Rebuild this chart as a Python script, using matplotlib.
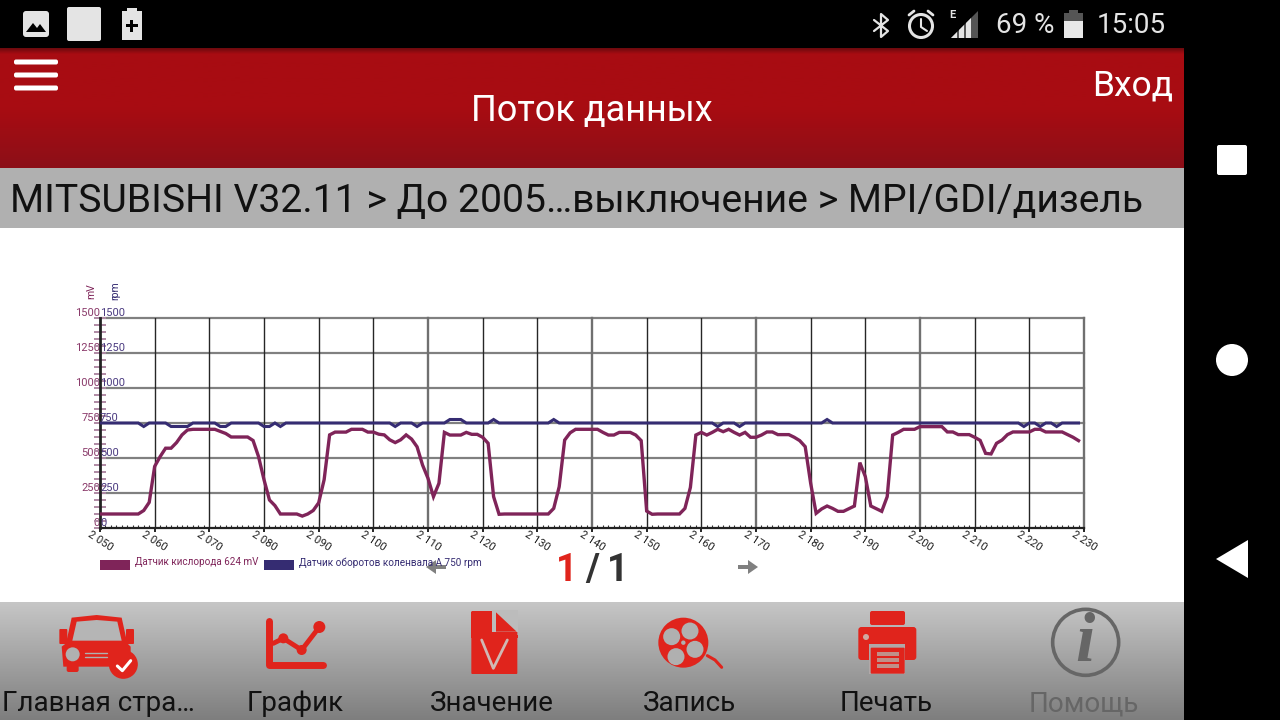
import numpy as np
import matplotlib
matplotlib.use("Agg")
import matplotlib.pyplot as plt
from matplotlib.patches import Rectangle, FancyBboxPatch, Circle, Polygon

plt.rcParams['font.family'] = ['Roboto', 'DejaVu Sans']

# ---- data ----
time_x = list(range(2050, 2230))
oxygen_mv = [
    100, 100, 100, 100, 100, 100, 100, 100, 125, 183,
    440, 510, 570, 570, 610, 665, 700, 705, 705, 705,
    705, 705, 690, 675, 650, 650, 650, 650, 625, 510,
    345, 200, 160, 100, 100, 100, 100, 85, 100, 125,
    180, 345, 665, 685, 685, 685, 705, 705, 705, 685,
    685, 670, 665, 630, 610, 630, 665, 635, 580, 450,
    355, 224, 319, 683, 664, 664, 664, 683, 669, 669,
    648, 605, 224, 98, 100, 100, 100, 100, 100, 100,
    100, 100, 100, 140, 295, 628, 680, 705, 705, 705,
    705, 705, 683, 664, 664, 683, 683, 683, 664, 624,
    121, 98, 100, 100, 100, 100, 100, 140, 290, 664,
    683, 664, 683, 705, 688, 705, 683, 664, 683, 648,
    648, 664, 686, 686, 667, 667, 667, 648, 624, 581,
    319, 105, 136, 157, 140, 119, 119, 138, 157, 467,
    367, 157, 138, 119, 224, 664, 683, 705, 705, 705,
    724, 724, 724, 724, 724, 686, 686, 667, 667, 667,
    648, 626, 533, 529, 605, 628, 667, 686, 686, 686,
    686, 705, 705, 686, 686, 686, 686, 667, 648, 624,
]
crank_rpm = [
    750, 750, 750, 750, 750, 750, 750, 750, 725, 750,
    750, 750, 750, 725, 725, 725, 725, 750, 750, 750,
    750, 750, 725, 725, 750, 750, 750, 750, 750, 750,
    725, 725, 750, 725, 750, 750, 750, 750, 750, 750,
    750, 750, 750, 750, 750, 750, 750, 750, 750, 750,
    750, 750, 750, 750, 725, 750, 750, 750, 725, 750,
    750, 750, 750, 750, 775, 775, 775, 750, 750, 750,
    750, 750, 775, 750, 750, 750, 750, 750, 750, 750,
    750, 750, 750, 775, 750, 750, 750, 750, 750, 750,
    750, 750, 750, 750, 750, 750, 750, 750, 750, 750,
    750, 750, 750, 750, 750, 750, 750, 750, 750, 750,
    750, 750, 750, 725, 750, 750, 750, 725, 750, 750,
    750, 750, 750, 750, 750, 750, 750, 750, 750, 750,
    750, 750, 750, 775, 750, 750, 750, 750, 750, 750,
    750, 750, 750, 750, 750, 750, 750, 750, 750, 750,
    750, 750, 750, 750, 750, 750, 750, 750, 750, 750,
    750, 750, 750, 750, 750, 750, 750, 750, 750, 725,
    750, 750, 725, 750, 750, 725, 750, 750, 750, 750,
]
x_ticks = list(range(2050, 2231, 10))
x_labels = [f"{v // 1000} {v % 1000:03d}" for v in x_ticks]
y_ticks = [0, 250, 500, 750, 1000, 1250, 1500]
y_labels = [str(v) for v in y_ticks]
gray_verticals = [2110, 2140, 2170, 2200, 2230]
legend_oxygen = "Датчик кислорода 624 mV"
legend_crank = "Датчик оборотов коленвала А 750 rpm"
breadcrumb = "MITSUBISHI V32.11 > До 2005…выключение > MPI/GDI/дизель"
toolbar = [("Главная стра…", 98, '#111111'), ("График", 295, '#111111'), ("Значение", 492, '#111111'),
           ("Запись", 689, '#111111'), ("Печать", 886, '#111111'), ("Помощь", 1084, '#666666')]

PURPLE = '#7f2459'
BLUE = '#352c72'
RED = '#e0241c'

W, H = 1280, 720
fig = plt.figure(figsize=(W / 100, H / 100), dpi=100, facecolor='white')

# ---- pixel-space overlay for the app chrome ----
ui = fig.add_axes([0, 0, 1, 1], zorder=0)
ui.set_xlim(0, W)
ui.set_ylim(H, 0)
ui.axis('off')


def grad(x0, x1, y0, y1, c0, c1, mid=None):
    cols = [c0, c1] if mid is None else [c0, mid, c1]
    rgb = np.array([matplotlib.colors.to_rgb(c) for c in cols])
    t = np.linspace(0, 1, 128)
    pos = np.linspace(0, 1, len(cols))
    img = np.stack([np.interp(t, pos, rgb[:, i]) for i in range(3)], axis=1)[:, None, :]
    ui.imshow(img, extent=(x0, x1, y1, y0), aspect='auto', interpolation='bilinear', zorder=1)


def rect(x, y, w, h, c, z=3):
    ui.add_patch(Rectangle((x, y), w, h, fc=c, ec='none', zorder=z))


def rrect(x, y, w, h, c, r=2, z=3):
    ui.add_patch(FancyBboxPatch((x + r, y + r), w - 2 * r, h - 2 * r, boxstyle=f"round,pad={r}",
                                fc=c, ec='none', zorder=z))


def circ(x, y, r, c, z=3, ec='none', lw=0):
    ui.add_patch(Circle((x, y), r, fc=c, ec=ec, lw=lw, zorder=z))


def poly(pts, c, z=3):
    ui.add_patch(Polygon(pts, closed=True, fc=c, ec='none', zorder=z))


def line(xs, ys, c, lw, z=3):
    ui.plot(xs, ys, color=c, lw=lw, solid_capstyle='round', solid_joinstyle='round', zorder=z)


def txt(x, y, s, size, c, ha='left', va='center', **kw):
    ui.text(x, y + 1.8, s, fontsize=size, color=c, ha=ha, va=va, zorder=5, **kw)


# backgrounds
rect(0, 0, W, H, 'white', 0)
rect(0, 0, W, 48, 'black', 2)
rect(1184, 0, 96, H, 'black', 2)
grad(0, 1184, 48, 168, '#a80c12', '#8c0f18', mid='#a80c12')
grad(0, 1184, 48, 54, '#6a0a0e', '#a80c12')
rect(0, 168, 1184, 60, '#b0b0b0', 2)
grad(0, 1184, 602, 720, '#c6c6c6', '#7e7e7e')
ui.set_xlim(0, W)
ui.set_ylim(H, 0)

# status bar left icons
rrect(23, 11, 26, 26, '#e4e4e4', 3)
poly([(26, 32), (33, 23), (37, 28), (40, 24), (46, 32)], 'black', 4)
rrect(67, 7, 34, 34, '#e4e4e4', 2)
rect(122, 11, 20, 29, '#e4e4e4')
rect(127, 8, 10, 4, '#e4e4e4')
rect(125.5, 24, 12, 3, 'black', 4)
rect(130, 19.5, 3, 12, 'black', 4)

# status bar right icons
line([874, 888, 881, 881, 888, 874], [20, 31, 37, 14, 20, 31], '#e4e4e4', 1.6)
circ(921, 26, 11.5, 'none', ec='#e4e4e4', lw=2.2)
line([921, 921, 927], [19, 27, 31], '#e4e4e4', 1.5)
line([909, 914], [15, 11], '#e4e4e4', 2)
line([933, 928], [15, 11], '#e4e4e4', 2)
txt(949, 13, "E", 8, '#e4e4e4', fontweight='bold')
poly([(951, 38), (978, 11), (978, 38)], '#555555')
poly([(951, 38), (957, 32), (957, 38)], '#e4e4e4', 4)
poly([(959, 38), (959, 30), (964, 25), (964, 38)], '#e4e4e4', 4)
poly([(966, 38), (966, 23), (971, 18), (971, 38)], '#e4e4e4', 4)
txt(996, 24, "69 %", 20, '#e4e4e4')
rect(1064, 13, 19, 8, '#555555')
rect(1069, 10, 9, 3, '#555555')
rect(1064, 21, 19, 17, '#e8e8e8')
txt(1097, 24, "15:05", 20, '#e4e4e4')

# hamburger
for yy in (62, 75, 88):
    rrect(14, yy - 2.5, 44, 5, 'white', 2)

txt(592, 109, "Поток данных", 26, 'white', ha='center')
txt(1173, 84, "Вход", 25.5, 'white', ha='right')
txt(10, 199.5, breadcrumb, 28.15, '#111111')

# navigation bar
rrect(1217, 145, 30, 30, 'white', 2)
circ(1232, 360, 16, 'white')
poly([(1248, 540), (1248, 578), (1216, 559)], 'white')

# legend, pager
rect(100, 560, 30, 10, PURPLE)
txt(135, 560.5, legend_oxygen, 7.15, PURPLE)
rect(264, 560, 30, 10, BLUE)
txt(299, 560.5, legend_crank, 7.2, BLUE)
txt(556, 569, "1", 27, RED, fontweight='bold')
txt(585, 569, "/", 27, '#333333', fontweight='bold')
txt(607, 569, "1", 27, '#333333', fontweight='bold')
for x0, d in ((446, -1), (738, 1)):
    rect(min(x0, x0 + d * 12), 565, 12, 4, '#808080', 4)
    poly([(x0 + d * 10, 560), (x0 + d * 20, 567), (x0 + d * 10, 574)], '#808080', 4)

# toolbar labels
for label, cx, col in toolbar:
    txt(cx, 702, label, 20, col, ha='center')


def Z(ox, oy, pts):
    return [(ox + a / 3, oy + b / 3) for a, b in pts]


# car icon
ox, oy = 40, 605
poly(Z(ox, oy, [(95, 38), (170, 30), (245, 38), (262, 115), (272, 125), (272, 185), (70, 185), (65, 125), (78, 115)]), RED)
poly(Z(ox, oy, [(110, 50), (170, 45), (232, 50), (245, 107), (97, 107)]), '#b5b5b5', 4)
rrect(ox + 58 / 3, oy + 72 / 3, 8, 36 / 3 + 3, RED, 1)
rrect(ox + 258 / 3, oy + 72 / 3, 8, 36 / 3 + 3, RED, 1)
rrect(ox + 80 / 3, oy + 180 / 3, 12, 7, RED, 2)
circ(ox + 98 / 3, oy + 148 / 3, 7, '#b0b0b0', 4)
for yy in (143, 157):
    line([ox + 136 / 3, ox + 202 / 3], [oy + yy / 3] * 2, '#b0b0b0', 1, 4)
circ(ox + 250 / 3, oy + 178 / 3, 14.5, RED, 5)
line(*zip(*Z(ox, oy, [(232, 183), (247, 197), (272, 167)])), 'white', 2.2, 6)

# graph icon
line([ox + 688 / 3, ox + 688 / 3, ox + 850 / 3], [oy + 48 / 3, oy + 180 / 3, oy + 180 / 3], RED, 5)
line(*zip(*Z(ox, oy, [(700, 115), (730, 100), (785, 135), (838, 66)])), RED, 3.5)
for a, b, r in ((730, 100, 5), (785, 135, 5), (838, 66, 6)):
    circ(ox + a / 3, oy + b / 3, r, RED)

# value (file) icon
ox, oy = 450, 605
rrect(ox + 64 / 3, oy + 18 / 3, 46, 63, RED, 1)
poly(Z(ox, oy, [(127, 15), (127, 80), (205, 80), (205, 15)]), '#bcbcbc', 4)
poly(Z(ox, oy, [(64, 20), (125, 20), (125, 90), (205, 90), (205, 100), (64, 100)]), RED, 5)
poly(Z(ox, oy, [(138, 22), (200, 80), (138, 80)]), RED, 5)
line(*zip(*Z(ox, oy, [(95, 105), (130, 190), (172, 105)])), '#d0b8b4', 2, 6)

# reel icon
cx, cy = ox + 700 / 3, oy + 113 / 3
circ(cx, cy, 25, RED)
for a, b in ((665, 95), (720, 78), (735, 133), (678, 155)):
    circ(ox + a / 3, oy + b / 3, 8.5, '#b0b0b0', 4)
circ(cx, cy, 2.2, '#b0b0b0', 4)
line(*zip(*Z(ox, oy, [(772, 152), (795, 165), (815, 187)])), RED, 2.2)

# printer icon
ox, oy = 840, 605
rrect(ox + 90 / 3, oy + 18 / 3, 35, 14, RED, 2)
rrect(ox + 55 / 3, oy + 66 / 3, 58, 33, RED, 3)
circ(ox + 78 / 3, oy + 96 / 3, 3, '#d0a8a0', 4)
rect(ox + 88 / 3, oy + 118 / 3, 36, 30, '#b0a8a8', 4)
rrect(ox + 92 / 3, oy + 128 / 3, 34, 26, RED, 1, 5)
for yy in (146, 165, 184):
    rect(ox + 110 / 3, oy + yy / 3 - 2, 22, 4, '#c09088', 6)

# info icon
circ(ox + 737 / 3, oy + 112 / 3, 33, 'none', ec='#666666', lw=2.6)
txt(ox + 735 / 3, oy + 112 / 3, "i", 50, '#666666', ha='center',
    family=['Liberation Serif'], fontweight='bold', style='italic')

# ---- chart ----
left, right, top, bottom = 100, 1084, 318, 528
rect_ax = [left / W, 1 - bottom / H, (right - left) / W, (bottom - top) / H]
ax = fig.add_axes(rect_ax, zorder=2, facecolor='none')
ax.set_xlim(2050, 2230)
ax.set_ylim(0, 1500)
ax.set_xticks(x_ticks)
ax.set_xticks(time_x, minor=True)
ax.set_xticklabels(x_labels, rotation=-33, ha='center', rotation_mode='default', fontsize=8, color='#222222')
ax.set_yticks(y_ticks)
ax.set_yticks(range(0, 1501, 50), minor=True)
ax.set_yticklabels(y_labels, fontsize=8, color='#8a3a6a', va='bottom')
ax.tick_params(axis='x', which='major', length=3, width=1.2, color='black', pad=-2)
ax.tick_params(axis='x', which='minor', length=2, width=0.8, color='#333333', direction='in')
ax.tick_params(axis='y', which='both', direction='inout', length=8, width=1.4, color='#b08aa5', pad=-4)

for yv in y_ticks[1:]:
    ax.axhline(yv, color='#808080', lw=1.6, zorder=1, clip_on=False)
for xv in x_ticks[1:]:
    if xv in gray_verticals:
        ax.axvline(xv, color='#707070', lw=1.7, zorder=1, clip_on=False)
    else:
        ax.axvline(xv, color='#262626', lw=1.0, zorder=1)

for s in ('top', 'right'):
    ax.spines[s].set_visible(False)
ax.spines['left'].set_linewidth(2.0)
ax.spines['left'].set_color('#222222')
ax.spines['bottom'].set_linewidth(1.6)
ax.spines['bottom'].set_color('#222222')

ax.plot(time_x, oxygen_mv, color=PURPLE, lw=2.4, zorder=3, solid_joinstyle='miter')

ax2 = fig.add_axes(rect_ax, zorder=3, facecolor='none')
ax2.set_xlim(2050, 2230)
ax2.set_ylim(0, 1500)
ax2.xaxis.set_visible(False)
for s in ax2.spines.values():
    s.set_visible(False)
ax2.set_yticks(y_ticks)
ax2.set_yticklabels(y_labels, fontsize=8, color='#4a3a80', ha='left', va='bottom')
ax2.tick_params(axis='y', length=0, pad=0)
ax2.plot(time_x, crank_rpm, color=BLUE, lw=2.2, zorder=3, solid_joinstyle='miter')

txt(91, 289, "mV", 7.5, PURPLE, ha='center', rotation=90)
txt(115, 289, "rpm", 7.5, BLUE, ha='center', rotation=90)

assert len(time_x) == len(oxygen_mv) == len(crank_rpm)
fig.savefig('out.png', dpi=100, facecolor='white')
